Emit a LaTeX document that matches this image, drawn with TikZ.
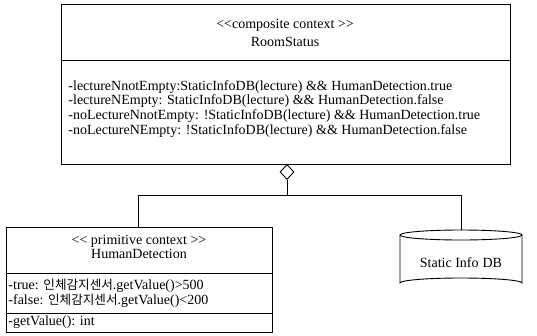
\documentclass[tikz,border=0pt]{standalone}
\usepackage{fontspec}
\setmainfont{Liberation Serif}
\newfontfamily\kr[Scale=0.9]{Noto Sans CJK KR}
\usetikzlibrary{shapes.geometric}
\newcommand\bigtxt{\fontsize{14pt}{14pt}\selectfont}
\begin{document}
\begin{tikzpicture}[x=1pt,y=-1pt,line width=0.9pt,
  txt/.style={inner sep=0pt,anchor=base,font=\bigtxt},
  ltxt/.style={txt,anchor=base west},
  box/.style={draw,inner sep=0pt}]
\useasboundingbox (0,0) rectangle (537,335);
% RoomStatus class
\node[box,minimum width=449pt,minimum height=160pt] (room) at (285.5,84) {};
\draw (room.west |- 0,60) -- (room.east |- 0,60);
\node[txt] (st1) at (285,28) {<\kern0pt<composite context >\kern0pt>};
\node[txt] (rn) at (285,46) {RoomStatus};
\node[ltxt] (a1) at (68,90) {-lectureNnotEmpty:StaticInfoDB(lecture) \&\& HumanDetection.true};
\node[ltxt] (a2) at (68,104.7) {-lectureNEmpty: StaticInfoDB(lecture) \&\& HumanDetection.false};
\node[ltxt] (a3) at (68,119.4) {-noLectureNnotEmpty: !StaticInfoDB(lecture) \&\& HumanDetection.true};
\node[ltxt] (a4) at (68,134) {-noLectureNEmpty: !StaticInfoDB(lecture) \&\& HumanDetection.false};
% aggregation diamond
\node[draw,diamond,minimum width=14pt,minimum height=15pt,inner sep=0pt,fill=white,anchor=north] (dia) at (287,164) {};
\coordinate (jn) at (287,195);
% HumanDetection class
\node[box,minimum width=266pt,minimum height=105pt] (hd) at (139,279.5) {};
\draw (hd.west |- 0,273) -- (hd.east |- 0,273);
\draw (hd.west |- 0,313) -- (hd.east |- 0,313);
\node[txt] (st2) at (139,244) {<\kern0pt< primitive context >\kern0pt>};
\node[txt] (hn) at (139,258) {HumanDetection};
\node[ltxt] (h1) at (8,289.5) {-true: {\kr 인체감지센서}.getValue()>500};
\node[ltxt] (h2) at (8,304) {-false: {\kr 인체감지센서}.getValue()<200};
\node[ltxt] (h3) at (8,325) {-getValue(): int};
% Static Info DB cylinder
\draw (400,235) -- (400,283) arc[start angle=180,end angle=360,x radius=61,y radius=5] -- (522,235);
\draw (461,235) ellipse [x radius=61,y radius=5];
\coordinate (db) at (461,230);
\node[txt] (dbt) at (461,267) {Static Info\hspace{4pt}DB};
% connectors
\draw (dia.south) -- (jn);
\draw (hd.north -| 138,0) |- (jn);
\draw (db) |- (jn);
\end{tikzpicture}
\end{document}
